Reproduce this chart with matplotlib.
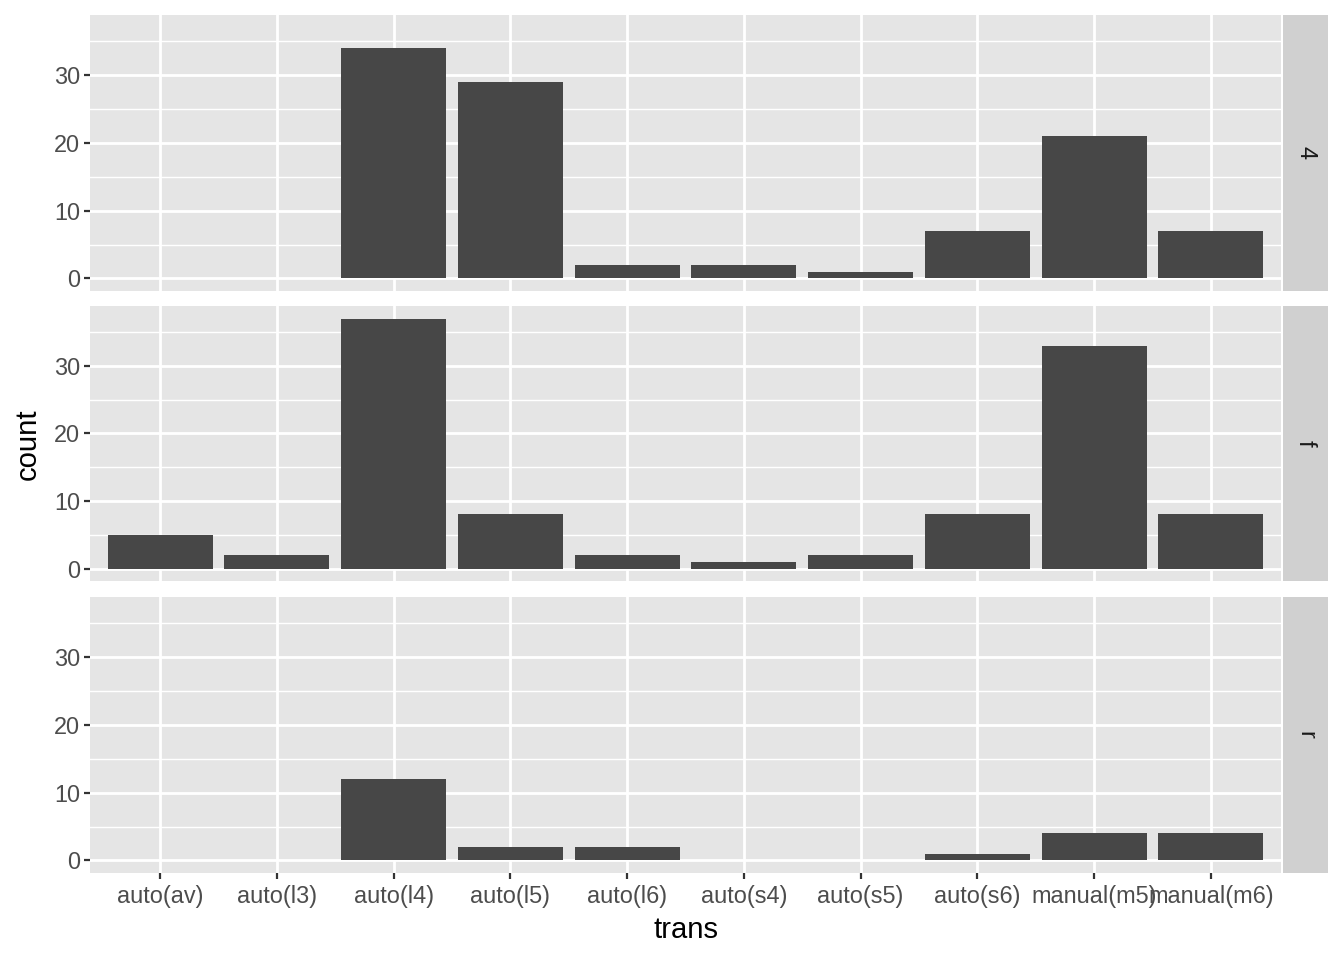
import numpy as np
import matplotlib
matplotlib.use("Agg")
import matplotlib.pyplot as plt

plt.rcParams['font.family'] = ['Liberation Sans', 'DejaVu Sans']

# transmission types (x axis)
trans = ["auto(av)", "auto(l3)", "auto(l4)", "auto(l5)", "auto(l6)",
         "auto(s4)", "auto(s5)", "auto(s6)", "manual(m5)", "manual(m6)"]

# facet labels
drv = ["4", "f", "r"]

# counts per facet, in the order of trans
count_4 = [0, 0, 34, 29, 2, 2, 1, 7, 21, 7]
count_f = [5, 2, 37, 8, 2, 1, 2, 8, 33, 8]
count_r = [0, 0, 12, 2, 2, 0, 0, 1, 4, 4]
counts = [count_4, count_f, count_r]

panel_bg = "#E5E5E5"
strip_bg = "#D0D0D0"
bar_col = "#474747"

fig = plt.figure(figsize=(13.44, 9.6), dpi=100)

W, H = 1344, 960
left, right = 90, 1281
panels_y = [(15, 291), (306, 581), (597, 873)]
strip_l, strip_r = 1283, 1328

ymax = max(max(c) for c in counts)
x = np.arange(len(trans))

for i, (top, bot) in enumerate(panels_y):
    ax = fig.add_axes([left / W, 1 - bot / H, (right - left) / W, (bot - top) / H])
    ax.set_facecolor(panel_bg)
    vals = counts[i]
    # skip zero bars, ggplot doesn't draw them
    xs = [xi for xi, v in zip(x, vals) if v > 0]
    vs = [v for v in vals if v > 0]
    ax.bar(xs, vs, width=0.9, color=bar_col, zorder=3)
    ax.set_xlim(-0.6, len(trans) - 0.4)
    ax.set_ylim(-ymax * 0.05, ymax * 1.05)
    ax.set_yticks([0, 10, 20, 30])
    ax.set_yticks([5, 15, 25, 35], minor=True)
    ax.set_xticks(x)
    ax.grid(True, which="major", color="white", linewidth=2.0, zorder=1)
    ax.grid(True, which="minor", axis="y", color="white", linewidth=1.0, zorder=1)
    for s in ax.spines.values():
        s.set_visible(False)
    ax.tick_params(axis="both", which="major", length=4.0, width=1.6,
                   color="#333333", labelcolor="#4D4D4D", labelsize=16.9, pad=3)
    ax.tick_params(axis="x", pad=5)
    ax.tick_params(axis="y", which="minor", length=0)
    if i < 2:
        ax.tick_params(axis="x", length=0, labelbottom=False)
    else:
        ax.set_xticklabels(trans)

    # facet strip on the right
    sax = fig.add_axes([strip_l / W, 1 - bot / H, (strip_r - strip_l) / W, (bot - top) / H])
    sax.set_facecolor(strip_bg)
    sax.set_xticks([])
    sax.set_yticks([])
    for s in sax.spines.values():
        s.set_visible(False)
    sax.text(0.5, 0.5, drv[i], rotation=-90, ha="center", va="center",
             fontsize=16.9, color="#1A1A1A", transform=sax.transAxes)

fig.text(28 / W, 1 - 444 / H, "count", rotation=90, ha="center", va="center",
         fontsize=21.1, color="black")
fig.text((left + right) / 2 / W, 1 - 930 / H, "trans", ha="center", va="center",
         fontsize=21.1, color="black")

fig.savefig("out.png", dpi=100, facecolor="white")
